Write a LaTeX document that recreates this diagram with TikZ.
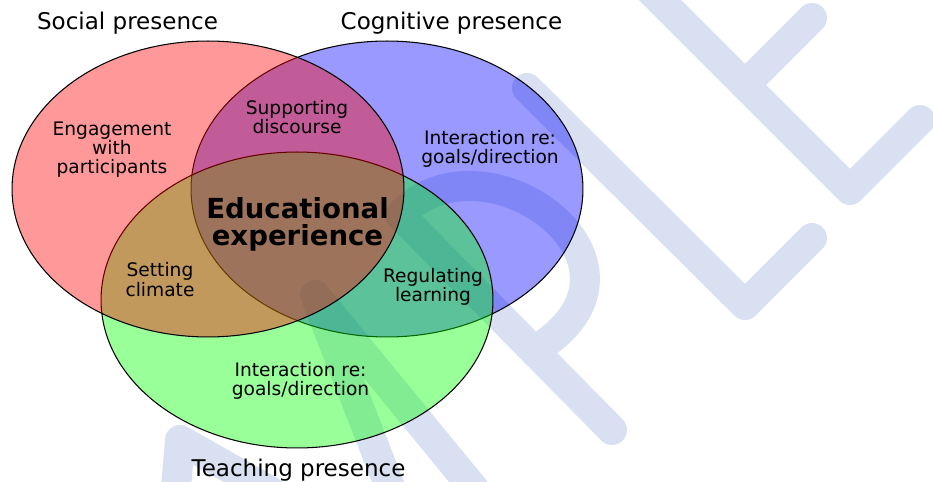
\documentclass[tikz,border=0pt]{standalone}
\usepackage{fontspec}
\setmainfont{DejaVu Sans}
\usetikzlibrary{positioning}
\definecolor{stampblue}{RGB}{216,224,242}

\begin{document}
\begin{tikzpicture}[x=0.02cm, y=-0.02cm]
        \tikzstyle{stamp} = [draw=stampblue, line width=0.6cm, line cap=round, line join=round]
        \tikzstyle{set} = [draw=black, line width=0.6pt, fill opacity=0.4]
        \tikzstyle{title} = [anchor=base, inner sep=0pt, font=\fontsize{13.1}{15}\selectfont]
        \tikzstyle{area} = [align=center, inner sep=0pt, font=\fontsize{10.6}{10.9}\selectfont]

        \useasboundingbox (0,0) rectangle (933,482);

        % background lettering
        \draw[stamp] (270,491) -- (180,440) -- (175,500);
        \draw[stamp] (395,500) -- (315,295) -- (475,490);
        \draw[stamp] (612,430) -- (400,215) .. controls (485,125) and (675,265) .. (535,350);
        \draw[stamp] (527,88) -- (745,305) -- (812,238);
        \draw[stamp] (650,-10) -- (850,190) -- (920,120);
        \draw[stamp] (745,85) -- (812,18);

        % the three presences
        \foreach \col/\cx/\cy in {blue/387/189, green/297/300, red/208/189}
            \filldraw[set, fill=\col] (\cx,\cy) ellipse [x radius=3.92cm, y radius=2.96cm];

        \node[title] (social) at (127.5,30) {Social presence};
        \node[title] (cognitive) at (451.5,30) {Cognitive presence};
        \node[title] (teaching) at (298.5,477) {Teaching presence};

        \node[area] (engage) at (112,150) {Engagement\\with\\participants};
        \node[area] (support) at (297,117) {Supporting\\discourse};
        \node[area] (cogint) at (490,149) {Interaction re:\\goals/direction};
        \node[area] (climate) at (160,279.5) {Setting\\climate};
        \node[area] (regulate) at (433,287) {Regulating\\learning};
        \node[area] (teachint) at (300.5,381) {Interaction re:\\goals/direction};

        \node[area, font=\bfseries\fontsize{15.7}{15.5}\selectfont] (edu) at (297.5,224.5) {Educational\\experience};

    \end{tikzpicture}
\end{document}
